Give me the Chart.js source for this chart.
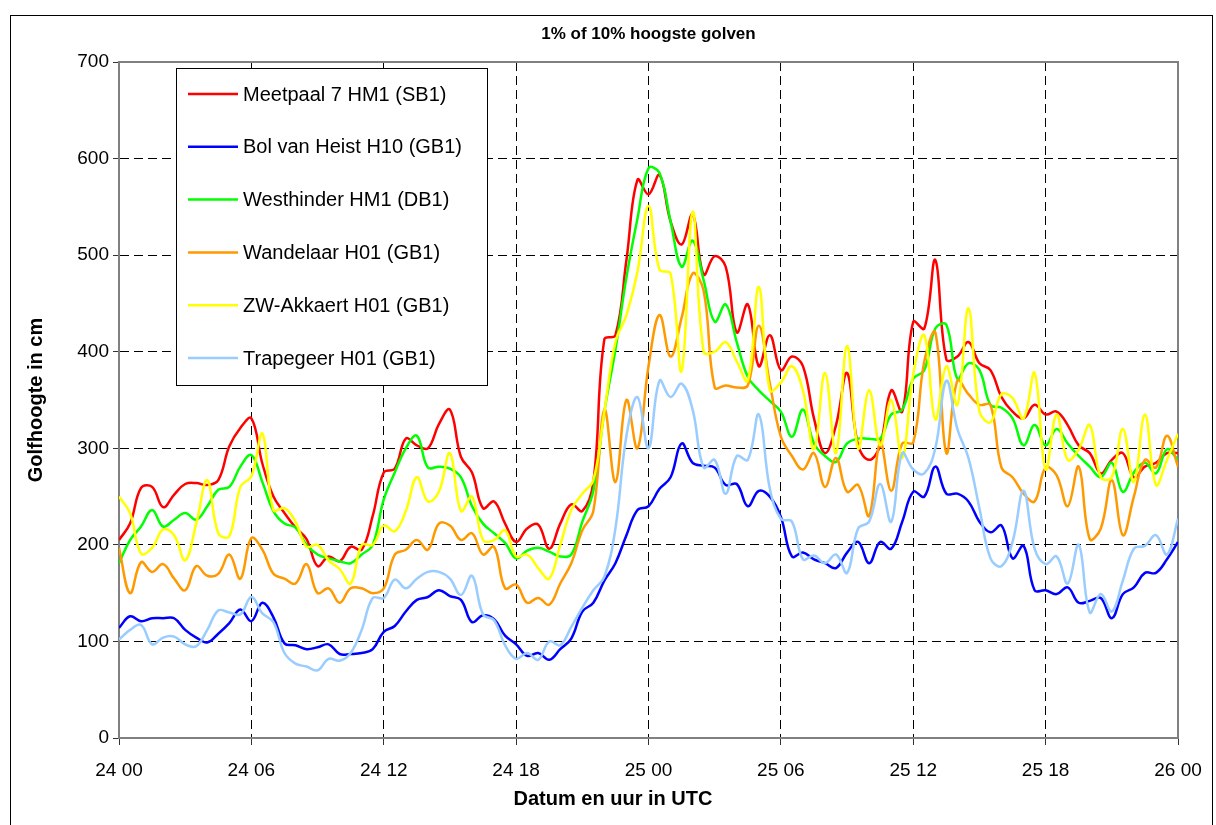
<!DOCTYPE html>
<html>
<head>
<meta charset="utf-8">
<script src="https://cdn.jsdelivr.net/npm/chart.js@4/dist/chart.umd.min.js"></script>
<style>
  html, body { margin: 0; padding: 0; background: #fff; }
  #wrap { position: relative; width: 1216px; height: 825px; }
</style>
</head>
<body>
<div id="wrap"><canvas id="golfChart" width="1216" height="825"></canvas></div>
<script>
// x-as: 24 00 .. 26 00, een waarde per half uur (uren sinds 24 00)
const tickLabels = ['24 00', '24 06', '24 12', '24 18', '25 00', '25 06', '25 12', '25 18', '26 00'];
const hours = [];
for (let i = 0; i <= 96; i++) hours.push(i / 2);

// golfhoogte in cm
const meetpaal = [205,222,259,260,239,252,263,264,262,267,302,321,331,
  284,250,233,218,206,178,188,183,198,195,230,275,
  279,310,303,300,325,340,291,275,238,245,222,203,
  217,221,196,222,242,235,265,413,417,495,578,563,
  583,535,511,542,480,499,488,420,449,385,417,381,
  395,385,331,295,324,378,303,288,303,360,338,431,
  424,495,392,395,410,388,381,353,338,331,345,335,
  338,324,303,295,274,288,295,270,281,285,295,295];
const bolVanHeist = [114,126,121,124,124,124,112,104,99,108,119,133,121,
  140,125,98,96,92,94,97,87,87,88,92,110,
  116,131,143,146,153,147,143,120,127,123,106,97,
  85,88,81,92,103,131,140,163,181,210,236,240,
  258,270,305,285,282,280,262,263,240,256,250,229,
  188,192,185,181,176,192,203,181,203,196,224,255,
  250,281,253,253,245,224,213,220,186,199,153,153,
  149,156,140,142,145,124,149,156,171,171,185,203];
const westhinder = [181,205,219,236,219,226,233,226,240,257,260,281,293,
  265,235,222,218,200,190,186,183,181,190,200,247,
  275,300,313,280,281,279,270,240,222,212,202,186,
  194,197,193,188,190,224,256,338,402,477,538,590,
  585,535,488,515,474,431,449,410,374,360,349,338,
  312,340,305,292,286,305,310,310,310,335,340,372,
  381,424,428,372,388,381,345,342,331,303,324,303,
  320,305,292,281,270,285,255,275,285,274,299,288];
const wandelaar = [197,150,182,172,180,165,153,178,168,170,190,165,207,
  195,170,165,160,180,150,155,140,155,155,150,155,
  190,195,205,195,222,220,205,212,190,198,155,159,
  140,145,138,160,181,215,235,340,265,350,300,385,
  438,395,435,481,463,363,365,363,365,427,367,312,
  292,278,295,260,290,255,262,230,306,256,305,306,
  390,420,295,370,356,345,345,280,270,253,245,280,
  272,240,281,206,217,267,210,250,288,280,313,281];
const zwAkkaert = [250,233,191,197,216,210,184,222,267,212,209,260,271,
  315,236,238,224,198,200,184,175,160,200,200,220,
  214,235,270,245,255,295,235,250,205,205,215,188,
  190,176,165,200,236,253,267,338,410,438,483,551,
  485,481,380,545,400,400,410,390,370,467,360,368,
  385,360,299,378,295,406,300,360,303,350,290,377,
  417,330,385,345,445,338,327,356,352,331,378,278,
  335,288,299,324,270,270,320,265,335,262,288,315];
const trapegeer = [102,112,117,97,104,105,97,95,112,132,130,128,146,
  129,120,88,77,74,70,82,80,88,112,145,145,
  164,155,165,172,172,165,148,168,128,122,96,82,
  88,81,100,96,115,135,153,167,217,313,353,300,
  370,353,367,340,280,288,253,292,288,335,258,227,
  224,185,189,181,190,171,217,224,263,224,295,278,
  274,300,370,320,290,238,186,178,203,256,196,180,
  188,160,200,130,149,131,163,196,199,210,190,227];

const seriesNames = ['Meetpaal 7 HM1 (SB1)', 'Bol van Heist H10 (GB1)', 'Westhinder HM1 (DB1)',
  'Wandelaar H01 (GB1)', 'ZW-Akkaert H01 (GB1)', 'Trapegeer H01 (GB1)'];
const seriesValues = [meetpaal, bolVanHeist, westhinder, wandelaar, zwAkkaert, trapegeer];
const seriesColors = ['#ff0000', '#0000ff', '#00ff00', '#ff9900', '#ffff00', '#99ccff'];

const FONT = '"Liberation Sans", Arial, sans-serif';

let dataSet = [];
seriesValues.forEach(function(values, idx) {
    dataSet.push({
        label: seriesNames[idx],
        data: values.map(function(v, i) { return {x: hours[i], y: v}; }),
        borderColor: seriesColors[idx],
        backgroundColor: seriesColors[idx],
        borderWidth: 2.5,
        pointRadius: 0,
        tension: 0.4,
        fill: false,
        order: seriesValues.length - idx   // later series on top, like the original
    });
});

// frame, titles and legend box drawn by hand
const decorPlugin = {
    id: 'decor',
    beforeDatasetsDraw(chart) {
        const ctx = chart.ctx, a = chart.chartArea;
        ctx.save();
        ctx.strokeStyle = '#808080';
        ctx.lineWidth = 2;
        ctx.strokeRect(a.left, a.top, a.right - a.left, a.bottom - a.top);
        ctx.restore();
    },
    afterDraw(chart) {
        const ctx = chart.ctx, a = chart.chartArea;
        ctx.save();
        // outer chart frame
        ctx.strokeStyle = '#000';
        ctx.lineWidth = 1;
        ctx.strokeRect(10.5, 15.5, 1202, 830);

        ctx.fillStyle = '#000';
        ctx.textAlign = 'center';
        ctx.textBaseline = 'middle';
        ctx.font = 'bold 17px ' + FONT;
        ctx.fillText('1% of 10% hoogste golven', (a.left + a.right) / 2, 34);

        ctx.font = 'bold 20px ' + FONT;
        ctx.fillText('Datum en uur in UTC', 613, 799);

        ctx.save();
        ctx.translate(36, (a.top + a.bottom) / 2);
        ctx.rotate(-Math.PI / 2);
        ctx.fillText('Golfhoogte in cm', 0, 0);
        ctx.restore();

        // legend
        ctx.fillStyle = '#fff';
        ctx.fillRect(176, 68, 311, 317);
        ctx.strokeStyle = '#000';
        ctx.lineWidth = 1;
        ctx.strokeRect(176.5, 68.5, 311, 317);
        ctx.font = '20px ' + FONT;
        ctx.textAlign = 'left';
        chart.data.datasets.forEach(function(ds, i) {
            const y = 94 + i * 52.8;
            ctx.strokeStyle = ds.borderColor;
            ctx.lineWidth = 2.5;
            ctx.beginPath();
            ctx.moveTo(188, y);
            ctx.lineTo(238, y);
            ctx.stroke();
            ctx.fillStyle = '#000';
            ctx.fillText(ds.label, 243, y + 1);
        });
        ctx.restore();
    }
};

new Chart(document.getElementById('golfChart'), {
    type: 'line',
    data: { datasets: dataSet },
    options: {
        responsive: false,
        animation: false,
        devicePixelRatio: 1,
        layout: { padding: { left: 0, top: 62, right: 38, bottom: 0 } },
        plugins: {
            legend: { display: false },
            tooltip: { enabled: false },
            title: { display: false }
        },
        scales: {
            x: {
                type: 'linear',
                min: 0,
                max: 48,
                afterFit: function(scale) { scale.height = 87; },
                ticks: {
                    stepSize: 6,
                    autoSkip: false,
                    maxRotation: 0,
                    padding: 14,
                    color: '#000',
                    font: { family: FONT, size: 19 },
                    callback: function(v) { return tickLabels[v / 6] || ''; }
                },
                grid: {
                    color: '#000',
                    lineWidth: 1,
                    tickLength: 7,
                    tickColor: '#333'
                },
                border: { display: true, color: '#333', width: 2, dash: [9, 5] }
            },
            y: {
                min: 0,
                max: 700,
                afterFit: function(scale) { scale.width = 119; },
                ticks: {
                    stepSize: 100,
                    padding: 4,
                    color: '#000',
                    font: { family: FONT, size: 19 }
                },
                grid: {
                    color: '#000',
                    lineWidth: 1,
                    tickLength: 6,
                    tickColor: '#333'
                },
                border: { display: true, color: '#333', width: 2, dash: [9, 5] }
            }
        }
    },
    plugins: [decorPlugin]
});
</script>
</body>
</html>
